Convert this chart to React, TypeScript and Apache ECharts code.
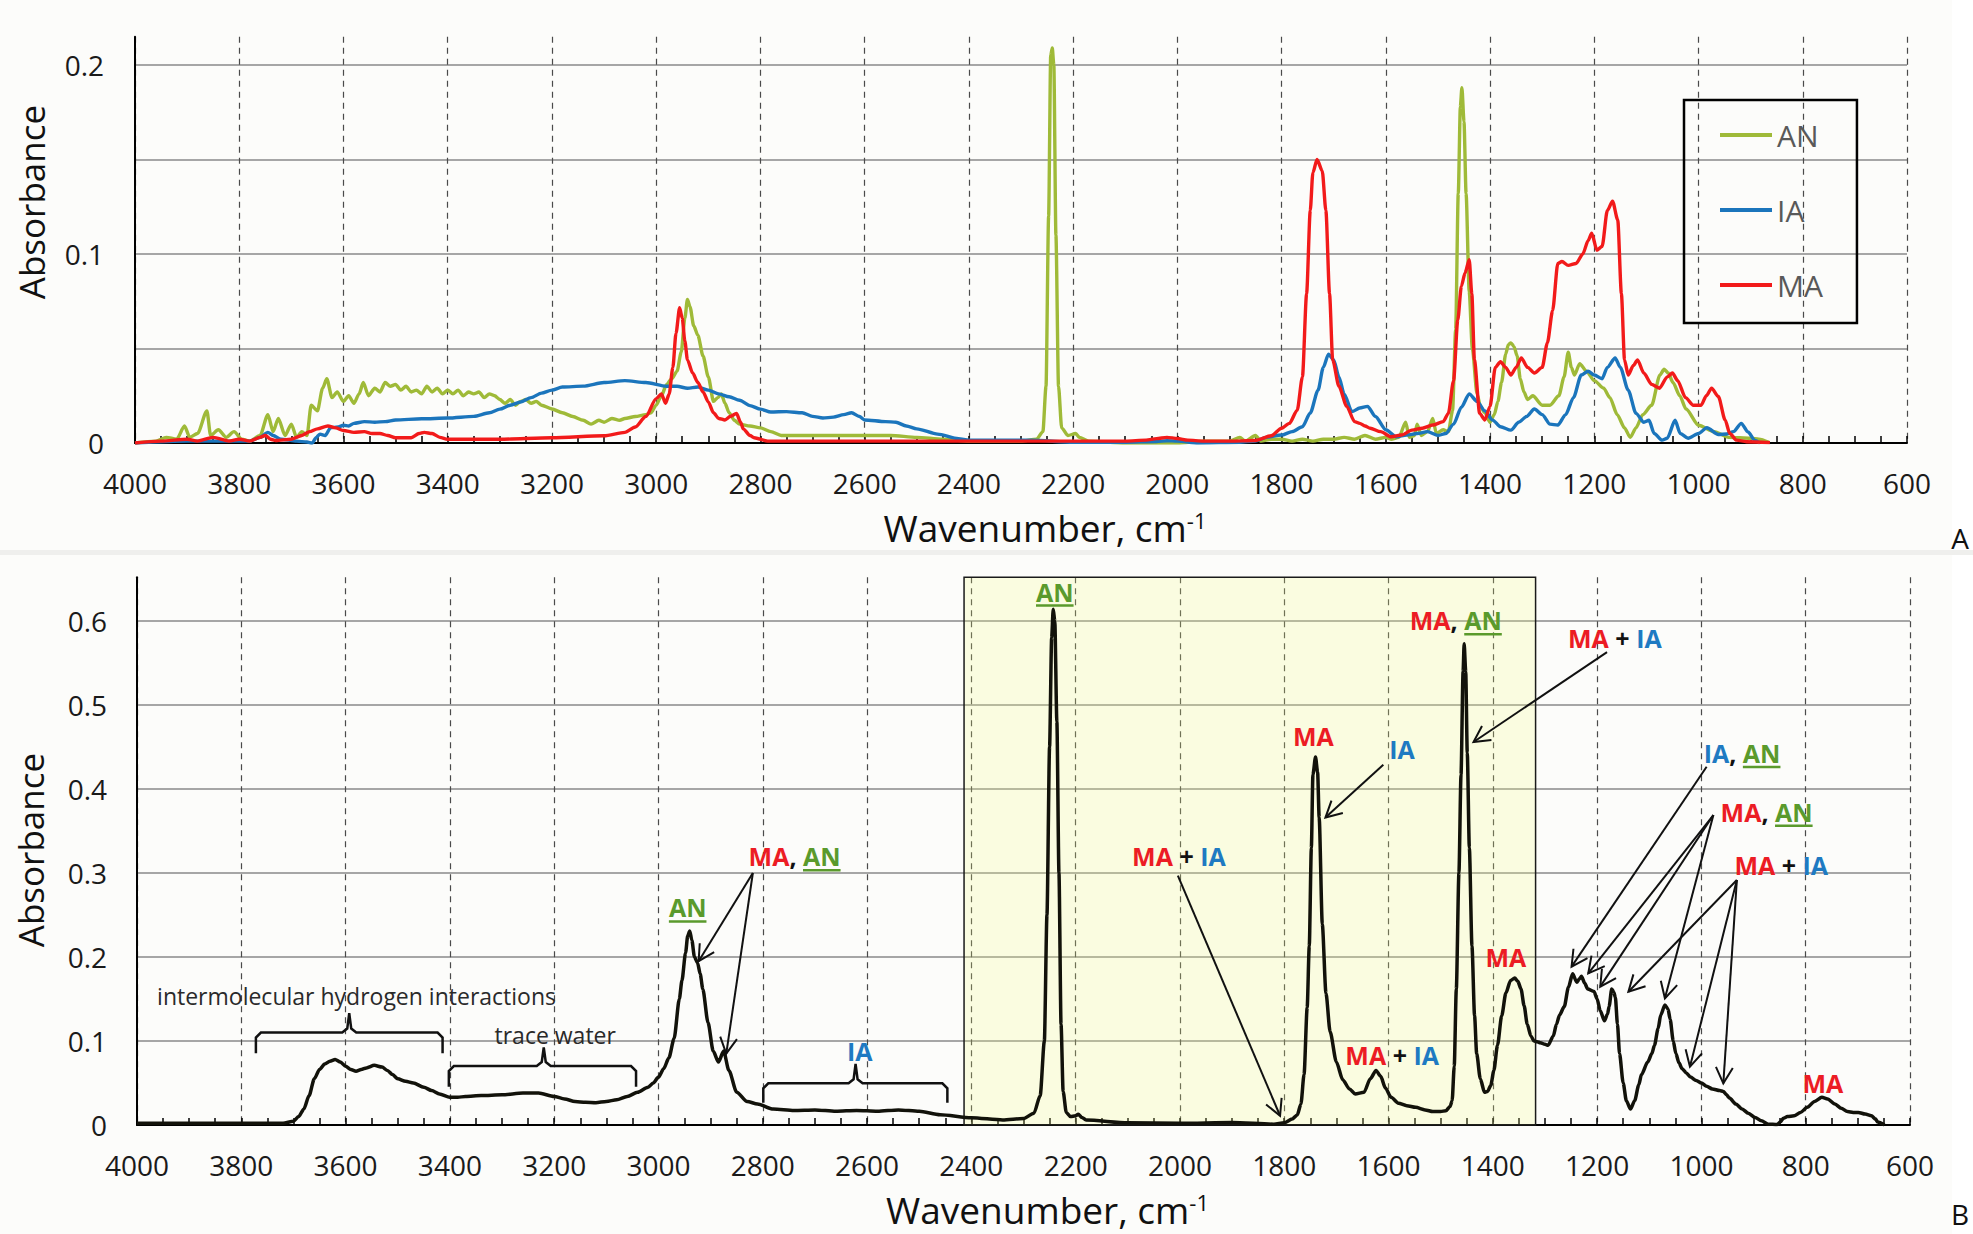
import React, { useEffect, useRef } from "react";
import * as echarts from "echarts";

// ---------------- DATA ----------------
const SERIES_NAMES = ["AN", "IA", "MA"];

const X_MIN = 600;
const X_MAX = 4000;
const X_STEP = 200;
const TOP_Y_MAX = 0.215;
const TOP_Y_STEP = 0.05;
const BOTTOM_Y_MAX = 0.652;
const BOTTOM_Y_STEP = 0.1;
const SHADED_RANGE = [2414, 1318];

// Panel A: individual spectra [wavenumber, absorbance]
const AN_SPECTRUM = [
  [4000, 0], [3960, 0.001], [3940, 0.003], [3920, 0.002], [3905, 0.009], [3895, 0.003], [3880, 0.005],
  [3862, 0.017], [3855, 0.004], [3840, 0.007], [3825, 0.003], [3810, 0.006], [3795, 0.002], [3780, 0.001],
  [3760, 0.004], [3745, 0.015], [3735, 0.006], [3725, 0.013], [3712, 0.004], [3700, 0.01], [3690, 0.003],
  [3680, 0.006], [3670, 0.004], [3662, 0.02], [3650, 0.017], [3640, 0.029], [3632, 0.034], [3622, 0.024],
  [3612, 0.027], [3600, 0.022], [3590, 0.025], [3580, 0.021], [3570, 0.026], [3562, 0.032], [3552, 0.025],
  [3540, 0.029], [3530, 0.027], [3520, 0.032], [3510, 0.03], [3500, 0.031], [3490, 0.028], [3480, 0.03],
  [3470, 0.027], [3460, 0.028], [3450, 0.026], [3440, 0.03], [3430, 0.027], [3420, 0.029], [3410, 0.026],
  [3400, 0.028], [3390, 0.026], [3380, 0.028], [3370, 0.025], [3360, 0.027], [3350, 0.026], [3340, 0.027],
  [3330, 0.024], [3320, 0.026], [3310, 0.025], [3300, 0.023], [3290, 0.021], [3280, 0.023], [3270, 0.02],
  [3260, 0.022], [3250, 0.023], [3240, 0.021], [3230, 0.022], [3220, 0.02], [3200, 0.018], [3180, 0.016],
  [3160, 0.014], [3140, 0.012], [3125, 0.01], [3110, 0.012], [3100, 0.011], [3085, 0.013], [3070, 0.012],
  [3060, 0.013], [3040, 0.014], [3020, 0.015], [3010, 0.016], [3000, 0.02], [2990, 0.025], [2980, 0.031],
  [2970, 0.034], [2960, 0.038], [2952, 0.048], [2945, 0.066], [2940, 0.076], [2935, 0.072], [2928, 0.062],
  [2920, 0.057], [2910, 0.046], [2900, 0.035], [2890, 0.022], [2882, 0.024], [2875, 0.026], [2868, 0.021],
  [2860, 0.016], [2850, 0.012], [2840, 0.01], [2820, 0.009], [2800, 0.008], [2780, 0.006], [2760, 0.004],
  [2700, 0.004], [2650, 0.004], [2600, 0.004], [2550, 0.004], [2500, 0.003], [2450, 0.002], [2400, 0.001],
  [2300, 0.001], [2270, 0.002], [2258, 0.006], [2252, 0.03], [2247, 0.12], [2243, 0.205], [2240, 0.209],
  [2237, 0.2], [2233, 0.11], [2228, 0.03], [2222, 0.008], [2210, 0.004], [2195, 0.005], [2188, 0.003],
  [2170, 0.001], [2100, 0], [2000, 0], [1950, 0.001], [1900, 0.001], [1880, 0.003], [1870, 0.001],
  [1850, 0.004], [1840, 0.001], [1820, 0.002], [1800, 0.002], [1780, 0.001], [1760, 0.002], [1740, 0.001],
  [1720, 0.002], [1700, 0.002], [1680, 0.003], [1660, 0.002], [1640, 0.004], [1620, 0.002], [1600, 0.003],
  [1590, 0.002], [1575, 0.003], [1562, 0.011], [1555, 0.003], [1545, 0.004], [1540, 0.01], [1532, 0.004],
  [1520, 0.006], [1510, 0.013], [1503, 0.005], [1490, 0.007], [1480, 0.006], [1472, 0.017], [1466, 0.06],
  [1461, 0.132], [1457, 0.178], [1454, 0.188], [1450, 0.17], [1446, 0.132], [1440, 0.08], [1434, 0.05],
  [1425, 0.026], [1418, 0.019], [1410, 0.016], [1400, 0.011], [1392, 0.015], [1385, 0.022], [1378, 0.032],
  [1370, 0.047], [1365, 0.052], [1360, 0.053], [1354, 0.051], [1348, 0.046], [1342, 0.034], [1335, 0.027],
  [1328, 0.023], [1318, 0.025], [1300, 0.02], [1285, 0.02], [1268, 0.025], [1258, 0.035], [1250, 0.048],
  [1244, 0.04], [1238, 0.036], [1228, 0.042], [1215, 0.038], [1200, 0.033], [1182, 0.029], [1170, 0.024],
  [1156, 0.015], [1142, 0.008], [1131, 0.003], [1120, 0.008], [1107, 0.015], [1090, 0.02], [1074, 0.036],
  [1066, 0.039], [1058, 0.037], [1049, 0.032], [1036, 0.025], [1024, 0.018], [1000, 0.0094], [970, 0.006],
  [942, 0.003], [900, 0.0025], [884, 0.002], [865, 0.0003],
];

const IA_SPECTRUM = [
  [4000, 0], [3900, 0.001], [3800, 0.001], [3780, 0.001], [3760, 0.003], [3745, 0.0056], [3735, 0.004],
  [3720, 0.002], [3690, 0.001], [3670, 0.0005], [3660, 0], [3652, 0.003], [3645, 0.0047], [3635, 0.004],
  [3625, 0.008], [3610, 0.0085], [3600, 0.0094], [3590, 0.009], [3580, 0.0104], [3560, 0.0113],
  [3540, 0.011], [3520, 0.0113], [3500, 0.0122], [3450, 0.0128], [3400, 0.0132], [3350, 0.0141],
  [3320, 0.016], [3300, 0.0179], [3280, 0.02], [3260, 0.0217], [3240, 0.024], [3220, 0.0264], [3200, 0.028],
  [3180, 0.0296], [3140, 0.0301], [3100, 0.032], [3060, 0.033], [3020, 0.032], [2980, 0.03], [2960, 0.03],
  [2940, 0.029], [2920, 0.0296], [2900, 0.028], [2880, 0.026], [2860, 0.0245], [2840, 0.0226],
  [2820, 0.0198], [2800, 0.0179], [2780, 0.0164], [2750, 0.0166], [2720, 0.016], [2700, 0.0141],
  [2680, 0.0132], [2660, 0.0137], [2640, 0.015], [2625, 0.016], [2610, 0.014], [2600, 0.0122],
  [2560, 0.0113], [2540, 0.011], [2520, 0.009], [2500, 0.0075], [2460, 0.0047], [2420, 0.0023],
  [2400, 0.0015], [2280, 0.0015], [2200, 0.0004], [2100, 0.0004], [2040, 0.0008], [2020, 0.0012],
  [2000, 0.001], [1960, 0], [1880, 0.0004], [1850, 0.001], [1830, 0.003], [1800, 0.0042], [1780, 0.006],
  [1760, 0.0086], [1745, 0.0159], [1730, 0.028], [1720, 0.04], [1710, 0.047], [1700, 0.044], [1690, 0.035],
  [1680, 0.026], [1665, 0.0166], [1650, 0.0185], [1635, 0.0194], [1620, 0.014], [1600, 0.007],
  [1580, 0.0033], [1560, 0.0042], [1540, 0.005], [1520, 0.006], [1500, 0.004], [1485, 0.005], [1470, 0.01],
  [1455, 0.019], [1440, 0.026], [1425, 0.022], [1410, 0.017], [1395, 0.0121], [1380, 0.0086],
  [1360, 0.0068], [1345, 0.011], [1330, 0.014], [1315, 0.018], [1300, 0.015], [1285, 0.01], [1270, 0.0095],
  [1255, 0.015], [1240, 0.024], [1225, 0.036], [1212, 0.038], [1200, 0.036], [1185, 0.034], [1175, 0.04],
  [1160, 0.045], [1150, 0.04], [1135, 0.028], [1120, 0.0157], [1105, 0.011], [1095, 0.012], [1085, 0.005],
  [1070, 0.0015], [1060, 0.0025], [1045, 0.012], [1035, 0.005], [1020, 0.0025], [1000, 0.005],
  [984, 0.0081], [962, 0.0045], [946, 0.0048], [933, 0.006], [918, 0.0104], [905, 0.0058], [892, 0.0014],
  [882, 0],
];

const MA_SPECTRUM = [
  [4000, 0], [3950, 0.001], [3900, 0.002], [3880, 0.001], [3850, 0.003], [3820, 0.001], [3800, 0.002],
  [3780, 0.001], [3760, 0.003], [3750, 0.004], [3740, 0.002], [3730, 0.0013], [3700, 0.002], [3680, 0.004],
  [3665, 0.006], [3650, 0.0075], [3630, 0.009], [3615, 0.008], [3600, 0.0066], [3580, 0.0056],
  [3560, 0.006], [3545, 0.005], [3530, 0.005], [3515, 0.004], [3500, 0.0028], [3470, 0.0028],
  [3455, 0.005], [3445, 0.0056], [3430, 0.005], [3415, 0.003], [3400, 0.002], [3300, 0.002],
  [3200, 0.0028], [3100, 0.0038], [3060, 0.0056], [3040, 0.0085], [3020, 0.014], [3000, 0.0235],
  [2990, 0.026], [2982, 0.021], [2975, 0.026], [2968, 0.04], [2962, 0.058], [2955, 0.0716], [2950, 0.066],
  [2945, 0.054], [2940, 0.044], [2930, 0.037], [2920, 0.032], [2910, 0.027], [2900, 0.0217], [2890, 0.016],
  [2880, 0.013], [2868, 0.0122], [2858, 0.014], [2846, 0.0156], [2838, 0.011], [2833, 0.0075],
  [2820, 0.004], [2812, 0.0028], [2786, 0.001], [2600, 0.001], [2400, 0.001], [2300, 0.001], [2100, 0.001],
  [2060, 0.0015], [2040, 0.0023], [2020, 0.003], [2000, 0.0024], [1980, 0.0015], [1950, 0.001],
  [1900, 0.001], [1850, 0.0013], [1820, 0.0038], [1800, 0.0078], [1785, 0.0104], [1770, 0.0174],
  [1760, 0.035], [1752, 0.079], [1745, 0.123], [1740, 0.143], [1732, 0.15], [1722, 0.144], [1715, 0.123],
  [1708, 0.079], [1702, 0.044], [1690, 0.03], [1675, 0.0194], [1660, 0.0113], [1650, 0.0104], [1640, 0.009],
  [1630, 0.0078], [1610, 0.006], [1590, 0.0033], [1570, 0.0042], [1550, 0.0068], [1530, 0.0078],
  [1510, 0.0095], [1490, 0.0113], [1480, 0.0157], [1470, 0.033], [1462, 0.065], [1455, 0.083],
  [1448, 0.09], [1440, 0.097], [1435, 0.079], [1430, 0.044], [1420, 0.0157], [1410, 0.0122], [1400, 0.0194],
  [1390, 0.04], [1380, 0.043], [1370, 0.04], [1360, 0.036], [1350, 0.04], [1340, 0.045], [1328, 0.04],
  [1315, 0.037], [1300, 0.04], [1290, 0.053], [1280, 0.07], [1270, 0.095], [1262, 0.096], [1250, 0.094],
  [1235, 0.095], [1222, 0.1], [1212, 0.107], [1205, 0.111], [1195, 0.102], [1185, 0.104], [1175, 0.123],
  [1165, 0.128], [1155, 0.118], [1148, 0.079], [1142, 0.044], [1135, 0.036], [1125, 0.041], [1117, 0.044],
  [1105, 0.037], [1090, 0.031], [1075, 0.029], [1060, 0.035], [1050, 0.037], [1040, 0.033], [1025, 0.024],
  [1010, 0.02], [995, 0.02], [985, 0.025], [975, 0.029], [962, 0.0246], [949, 0.0122], [940, 0.005],
  [927, 0.0015], [908, 0.0007], [863, 0.0002],
];

// Panel B: mixture spectrum [wavenumber, absorbance]
const MIXTURE_SPECTRUM = [
  [4000, 0.002], [3900, 0.002], [3800, 0.002], [3720, 0.002], [3700, 0.0046], [3690, 0.01], [3680, 0.019],
  [3670, 0.035], [3660, 0.055], [3650, 0.066], [3640, 0.0725], [3630, 0.076], [3620, 0.078], [3610, 0.075],
  [3600, 0.07], [3590, 0.066], [3580, 0.064], [3570, 0.066], [3560, 0.068], [3545, 0.071], [3530, 0.069],
  [3520, 0.065], [3510, 0.06], [3500, 0.055], [3485, 0.052], [3470, 0.05], [3450, 0.045], [3435, 0.041],
  [3420, 0.037], [3400, 0.033], [3385, 0.033], [3370, 0.034], [3340, 0.035], [3300, 0.036], [3260, 0.038],
  [3230, 0.038], [3200, 0.034], [3180, 0.031], [3160, 0.028], [3140, 0.027], [3120, 0.0266], [3100, 0.028],
  [3080, 0.03], [3060, 0.034], [3040, 0.039], [3020, 0.045], [3010, 0.05], [3000, 0.057], [2990, 0.067],
  [2980, 0.08], [2970, 0.103], [2960, 0.15], [2955, 0.172], [2948, 0.205], [2944, 0.225], [2940, 0.231],
  [2936, 0.22], [2931, 0.2], [2925, 0.193], [2920, 0.18], [2915, 0.162], [2905, 0.122], [2895, 0.088],
  [2885, 0.075], [2875, 0.088], [2865, 0.065], [2850, 0.039], [2830, 0.028], [2810, 0.025], [2780, 0.019],
  [2740, 0.0174], [2700, 0.018], [2660, 0.0164], [2620, 0.0174], [2580, 0.0164], [2540, 0.018],
  [2500, 0.0164], [2460, 0.0123], [2400, 0.0087], [2340, 0.006], [2300, 0.0077], [2280, 0.014],
  [2268, 0.035], [2260, 0.1], [2255, 0.25], [2250, 0.45], [2246, 0.58], [2243, 0.614], [2240, 0.6],
  [2236, 0.48], [2232, 0.3], [2228, 0.12], [2224, 0.04], [2218, 0.015], [2210, 0.01], [2200, 0.011],
  [2195, 0.0128], [2188, 0.009], [2180, 0.006], [2100, 0.0026], [2000, 0.002], [1900, 0.003], [1820, 0.001],
  [1800, 0.0026], [1785, 0.007], [1775, 0.012], [1768, 0.025], [1762, 0.06], [1756, 0.14], [1752, 0.213],
  [1748, 0.33], [1745, 0.417], [1740, 0.438], [1736, 0.42], [1733, 0.366], [1727, 0.239], [1720, 0.157],
  [1712, 0.111], [1700, 0.075], [1688, 0.054], [1675, 0.043], [1664, 0.037], [1647, 0.039], [1635, 0.055],
  [1624, 0.065], [1615, 0.058], [1606, 0.044], [1595, 0.033], [1581, 0.026], [1565, 0.023], [1548, 0.021],
  [1530, 0.018], [1515, 0.016], [1500, 0.016], [1490, 0.017], [1482, 0.022], [1478, 0.029], [1474, 0.07],
  [1470, 0.162], [1465, 0.3], [1461, 0.417], [1457, 0.54], [1455, 0.573], [1452, 0.54], [1449, 0.443],
  [1445, 0.33], [1440, 0.213], [1435, 0.13], [1431, 0.085], [1424, 0.055], [1416, 0.039], [1410, 0.04],
  [1404, 0.047], [1398, 0.065], [1391, 0.095], [1383, 0.13], [1375, 0.157], [1366, 0.172], [1358, 0.175],
  [1352, 0.171], [1346, 0.162], [1340, 0.142], [1334, 0.12], [1327, 0.106], [1321, 0.1], [1315, 0.099],
  [1309, 0.098], [1300, 0.096], [1294, 0.095], [1284, 0.106], [1278, 0.12], [1272, 0.131], [1263, 0.141],
  [1255, 0.164], [1247, 0.18], [1239, 0.17], [1234, 0.174], [1230, 0.177], [1224, 0.169], [1218, 0.162],
  [1206, 0.159], [1200, 0.15], [1194, 0.136], [1186, 0.124], [1180, 0.132], [1177, 0.141], [1172, 0.162],
  [1168, 0.158], [1165, 0.152], [1161, 0.12], [1157, 0.085], [1150, 0.05], [1144, 0.029], [1136, 0.019],
  [1128, 0.029], [1120, 0.048], [1115, 0.06], [1103, 0.075], [1095, 0.085], [1090, 0.095], [1083, 0.115],
  [1078, 0.131], [1070, 0.143], [1064, 0.138], [1060, 0.126], [1054, 0.1], [1049, 0.085], [1043, 0.074],
  [1037, 0.067], [1029, 0.062], [1021, 0.057], [1010, 0.053], [1000, 0.05], [990, 0.046], [979, 0.043],
  [965, 0.041], [958, 0.04], [952, 0.036], [946, 0.032], [934, 0.025], [922, 0.019], [910, 0.014],
  [897, 0.009], [885, 0.005], [872, 0.001], [855, 0.0005], [848, 0.004], [843, 0.008], [835, 0.01],
  [822, 0.011], [810, 0.015], [797, 0.021], [783, 0.028], [769, 0.033], [758, 0.031], [744, 0.025],
  [732, 0.02], [720, 0.016], [709, 0.015], [699, 0.015], [686, 0.013], [674, 0.011], [666, 0.007],
  [662, 0.0036], [649, 0],
];

// Panel B annotations (data coordinates: wavenumber, absorbance)
const BAND_LABELS = [
  { wn: 2944, a: 0.259, parts: [["AN", "AN"]] },
  { wn: 2739, a: 0.32, parts: [["MA", "MA"], [", ", "k"], ["AN", "AN"]] },
  { wn: 2614, a: 0.088, parts: [["IA", "IA"]] },
  { wn: 2240, a: 0.635, parts: [["AN", "AN"]] },
  { wn: 2002, a: 0.32, parts: [["MA", "MA"], [" + ", "k"], ["IA", "IA"]] },
  { wn: 1744, a: 0.463, parts: [["MA", "MA"]] },
  { wn: 1574, a: 0.448, parts: [["IA", "IA"]] },
  { wn: 1471, a: 0.601, parts: [["MA", "MA"], [", ", "k"], ["AN", "AN"]] },
  { wn: 1166, a: 0.58, parts: [["MA", "MA"], [" + ", "k"], ["IA", "IA"]] },
  { wn: 1375, a: 0.2, parts: [["MA", "MA"]] },
  { wn: 1593, a: 0.083, parts: [["MA", "MA"], [" + ", "k"], ["IA", "IA"]] },
  { wn: 922, a: 0.443, parts: [["IA", "IA"], [", ", "k"], ["AN", "AN"]] },
  { wn: 875, a: 0.373, parts: [["MA", "MA"], [", ", "k"], ["AN", "AN"]] },
  { wn: 847, a: 0.309, parts: [["MA", "MA"], [" + ", "k"], ["IA", "IA"]] },
  { wn: 767, a: 0.05, parts: [["MA", "MA"]] },
];

const ARROWS = [
  [[2819, 0.3], [2923, 0.195]],
  [[2819, 0.3], [2870, 0.085]],
  [[2004, 0.297], [1808, 0.011]],
  [[1610, 0.429], [1721, 0.366]],
  [[1181, 0.563], [1437, 0.456]],
  [[990, 0.4265], [1249, 0.1885]],
  [[977, 0.369], [1217, 0.1806]],
  [[977, 0.369], [1194, 0.1647]],
  [[977, 0.369], [1070, 0.1508]],
  [[932, 0.2917], [1140, 0.1587]],
  [[932, 0.2917], [1022, 0.0694]],
  [[932, 0.2917], [958, 0.0496]],
];

// brackets: left, right, tip wavenumber; end, bar, tip absorbance
const BRACKETS = [
  [3772, 3414, 3593, 0.0853, 0.11, 0.133],
  [3402, 3043, 3220, 0.0456, 0.0702, 0.0925],
  [2799, 2446, 2622, 0.0266, 0.0496, 0.0726],
];

const NOTES = [
  { text: "intermolecular hydrogen interactions", wn: 3579, a: 0.153 },
  { text: "trace water", wn: 3198, a: 0.107 },
];

// ---------------- STYLE ----------------
const FONT = "Open Sans";
const LINE_COLORS: Record<string, string> = { AN: "#9fba38", IA: "#1b75bc", MA: "#f21a1a" };
const TEXT_COLORS: Record<string, string> = { MA: "#ec1c24", IA: "#1e7ac2", AN: "#5a9a2c", k: "#111111" };

function xAxisCfg(gridIndex: number, nameGap: number) {
  return {
    type: "value",
    gridIndex,
    min: X_MIN,
    max: X_MAX,
    interval: X_STEP,
    inverse: true,
    axisLine: { show: true, onZero: false, lineStyle: { color: "#000", width: 2 } },
    axisTick: { show: true, inside: true, length: 7, lineStyle: { color: "#000", width: 1.5 } },
    minorTick: { show: true, splitNumber: 4, length: 7, lineStyle: { color: "#000", width: 1.5 } },
    splitLine: { show: true, lineStyle: { color: "#4a4a4a", width: 1.2, type: [6, 5] } },
    axisLabel: {
      fontSize: 28,
      color: "#1a1a1a",
      margin: 26,
      fontFamily: FONT,
      formatter: (v: number) => String(Math.round(v)),
    },
    name: "{t|Wavenumber, cm}{s|-1}",
    nameLocation: "middle",
    nameGap,
    nameTextStyle: {
      fontSize: 37,
      fontFamily: FONT,
      color: "#111",
      padding: [0, 0, 0, 48],
      rich: {
        t: { fontSize: 37, fontFamily: FONT, color: "#111", lineHeight: 36 },
        s: { fontSize: 22, fontFamily: FONT, color: "#111", verticalAlign: "top", lineHeight: 20 },
      },
    },
  };
}

function buildOption() {
  const lineSeries = (name: string, data: number[][]) => ({
    name,
    type: "line",
    xAxisIndex: 0,
    yAxisIndex: 0,
    data,
    symbol: "none",
    showSymbol: false,
    smooth: 0.25,
    smoothMonotone: "x",
    lineStyle: { color: LINE_COLORS[name], width: 3.4 },
    itemStyle: { color: LINE_COLORS[name] },
    z: 3,
  });
  return {
    animation: false,
    backgroundColor: "#fcfcfa",
    textStyle: { fontFamily: FONT },
    grid: [
      { left: 135, right: 66, top: 443 - TOP_Y_MAX * 1890, bottom: 791 },
      { left: 137, right: 63, top: 1125 - BOTTOM_Y_MAX * 840, bottom: 109 },
    ],
    legend: {
      data: SERIES_NAMES,
      orient: "vertical",
      left: 1684,
      top: 100,
      padding: [20, 34, 23, 36],
      icon: "rect",
      itemWidth: 52,
      itemHeight: 4,
      itemGap: 45,
      borderColor: "#000",
      borderWidth: 2.5,
      textStyle: { fontSize: 30, color: "#595959", fontFamily: FONT, lineHeight: 30, height: 30 },
    },
    xAxis: [xAxisCfg(0, 66), xAxisCfg(1, 66)],
    yAxis: [
      {
        type: "value",
        gridIndex: 0,
        min: 0,
        max: TOP_Y_MAX,
        interval: TOP_Y_STEP,
        axisLine: { show: true, lineStyle: { color: "#000", width: 2 } },
        axisTick: { show: false },
        splitLine: { show: true, showMaxLine: false, lineStyle: { color: "#8a8a8a", width: 1.5 } },
        axisLabel: {
          fontSize: 28,
          color: "#1a1a1a",
          margin: 31,
          showMaxLabel: false,
          fontFamily: FONT,
          formatter: (v: number) => {
            const r = Math.round(v * 10) / 10;
            if (Math.abs(v - r) > 1e-9) return "";
            return r === 0 ? "0" : String(r);
          },
        },
      },
      {
        type: "value",
        gridIndex: 1,
        min: 0,
        max: BOTTOM_Y_MAX,
        interval: BOTTOM_Y_STEP,
        axisLine: { show: true, lineStyle: { color: "#000", width: 2 } },
        axisTick: { show: false },
        splitLine: { show: true, showMaxLine: false, lineStyle: { color: "#8a8a8a", width: 1.5 } },
        axisLabel: {
          fontSize: 28,
          color: "#1a1a1a",
          margin: 30,
          showMaxLabel: false,
          fontFamily: FONT,
          formatter: (v: number) => (Math.abs(v) < 1e-9 ? "0" : v.toFixed(1)),
        },
      },
    ],
    series: [
      lineSeries("AN", AN_SPECTRUM),
      lineSeries("IA", IA_SPECTRUM),
      lineSeries("MA", MA_SPECTRUM),
      {
        name: "AN + IA + MA",
        type: "line",
        xAxisIndex: 1,
        yAxisIndex: 1,
        data: MIXTURE_SPECTRUM,
        symbol: "none",
        showSymbol: false,
        smooth: 0.25,
        smoothMonotone: "x",
        lineStyle: { color: "#12120a", width: 3.5 },
        itemStyle: { color: "#12120a" },
        z: 3,
        markArea: {
          silent: true,
          itemStyle: { color: "rgba(246,255,130,0.22)", borderColor: "#1a1a1a", borderWidth: 1.5 },
          data: [[{ xAxis: SHADED_RANGE[0], yAxis: 0 }, { xAxis: SHADED_RANGE[1], yAxis: BOTTOM_Y_MAX }]],
        },
      },
    ],
  };
}

function buildGraphics(chart: any) {
  const els: any[] = [];
  const ctx = document.createElement("canvas").getContext("2d")!;
  const measure = (t: string, size: number, weight: string) => {
    ctx.font = `${weight} ${size}px "${FONT}"`;
    return ctx.measureText(t).width;
  };
  const px = (wn: number, a: number) => chart.convertToPixel({ gridIndex: 1 }, [wn, a]) as number[];

  // background details
  els.push({ type: "rect", z: -10, shape: { x: 1952, y: 0, width: 21, height: 1234 }, style: { fill: "#ffffff" } });
  els.push({ type: "rect", z: -10, shape: { x: 0, y: 550, width: 1973, height: 5 }, style: { fill: "#efefed" } });

  // axis titles and panel letters
  els.push({
    type: "text", x: 31, y: 202, rotation: Math.PI / 2, z: 50,
    style: { text: "Absorbance", fontSize: 35, fontFamily: FONT, fill: "#111", align: "center", verticalAlign: "middle" },
  });
  els.push({
    type: "text", x: 30, y: 850, rotation: Math.PI / 2, z: 50,
    style: { text: "Absorbance", fontSize: 35, fontFamily: FONT, fill: "#111", align: "center", verticalAlign: "middle" },
  });
  els.push({
    type: "text", x: 1960, y: 538, z: 50,
    style: { text: "A", fontSize: 28, fontFamily: FONT, fill: "#111", align: "center", verticalAlign: "middle" },
  });
  els.push({
    type: "text", x: 1960, y: 1214, z: 50,
    style: { text: "B", fontSize: 28, fontFamily: FONT, fill: "#111", align: "center", verticalAlign: "middle" },
  });

  // band labels
  const size = 25;
  BAND_LABELS.forEach((lab) => {
    const [cx, cy] = px(lab.wn, lab.a);
    const widths = lab.parts.map(([t]) => measure(t, size, "bold"));
    const total = widths.reduce((s, w) => s + w, 0);
    let x = cx - total / 2;
    lab.parts.forEach(([t, k], i) => {
      els.push({
        type: "text", x, y: cy, z: 100,
        style: {
          text: t, fontSize: size, fontWeight: "bold", fontFamily: FONT,
          fill: TEXT_COLORS[k], align: "left", verticalAlign: "middle",
        },
      });
      if (k === "AN") {
        els.push({
          type: "line", z: 100,
          shape: { x1: x, y1: cy + 14, x2: x + widths[i], y2: cy + 14 },
          style: { stroke: TEXT_COLORS.AN, lineWidth: 2.5 },
        });
      }
      x += widths[i];
    });
  });

  // arrows
  ARROWS.forEach(([from, to]) => {
    const [x0, y0] = px(from[0], from[1]);
    const [x1, y1] = px(to[0], to[1]);
    const dx = x1 - x0, dy = y1 - y0;
    const len = Math.hypot(dx, dy);
    const ux = dx / len, uy = dy / len;
    const L = 18, th = (28 * Math.PI) / 180;
    const arm = (s: number) => {
      const c = Math.cos(s * th), sn = Math.sin(s * th);
      const rx = ux * c - uy * sn, ry = ux * sn + uy * c;
      return [x1 - L * rx, y1 - L * ry];
    };
    els.push({ type: "line", z: 100, shape: { x1: x0, y1: y0, x2: x1, y2: y1 }, style: { stroke: "#111", lineWidth: 2 } });
    els.push({
      type: "polyline", z: 100,
      shape: { points: [arm(1), [x1, y1], arm(-1)] },
      style: { stroke: "#111", lineWidth: 2, fill: null },
    });
  });

  // brackets
  BRACKETS.forEach(([l, r, tip, aEnd, aBar, aTip]) => {
    const [lx, yEnd] = px(l, aEnd);
    const [rx] = px(r, aEnd);
    const [tx, yTip] = px(tip, aTip);
    const [, yBar] = px(l, aBar);
    const pts = [
      [lx, yEnd], [lx, yBar + 5], [lx + 5, yBar], [tx - 7, yBar], [tx - 2, yBar - 4], [tx, yTip],
      [tx + 2, yBar - 4], [tx + 7, yBar], [rx - 5, yBar], [rx, yBar + 5], [rx, yEnd],
    ];
    els.push({ type: "polyline", z: 100, shape: { points: pts }, style: { stroke: "#111", lineWidth: 2.5, fill: null } });
  });

  // notes
  NOTES.forEach((n) => {
    const [x, y] = px(n.wn, n.a);
    els.push({
      type: "text", x, y, z: 100,
      style: { text: n.text, fontSize: 23, fontFamily: FONT, fill: "#2a2a2a", align: "center", verticalAlign: "middle" },
    });
  });

  return els;
}

export default function App() {
  const ref = useRef<HTMLDivElement>(null);
  useEffect(() => {
    document.body.style.margin = "0";
    const chart = echarts.init(ref.current!, null, { renderer: "svg" });
    chart.setOption(buildOption() as any);
    chart.setOption({ graphic: buildGraphics(chart) } as any);
    return () => chart.dispose();
  }, []);
  return <div ref={ref} style={{ width: 1973, height: 1234 }} />;
}
